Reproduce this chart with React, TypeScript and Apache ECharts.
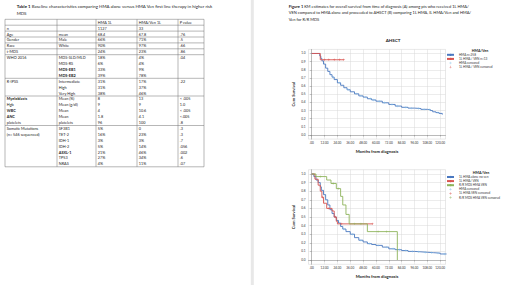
import React, { useEffect, useRef } from "react";
import * as echarts from "echarts";

const FONT = "Lato, 'Open Sans', sans-serif";

// ---------- Table data ----------
const tableTitle1 = "{b|Table 1} Baseline characteristics comparing HMA alone versus HMA Ven first line therapy in higher risk";
const tableTitle2 = "MDS";
const tableHeader = ["", "", "HMA 1L", "HMA/Ven 1L", "P value"];
const tableRows: string[][] = [
  ["n", "", "1127", "33", ""],
  ["Age", "mean", "68.4", "67.8", ".76"],
  ["Gender", "Male", "66%", "71%", ".5"],
  ["Race", "White", "90%", "97%", ".66"],
  ["t-MDS", "", "24%", "23%", ".86"],
  ["WHO 2016", "MDS-SLD/MLD", "18%", "4%", ".04"],
  ["", "MDS-RS", "6%", "4%", ""],
  ["", "MDS-EB1", "33%", "9%", ""],
  ["", "MDS-EB2", "39%", "78%", ""],
  ["R-IPSS", "Intermediate", "31%", "17%", ".22"],
  ["", "High", "31%", "37%", ""],
  ["", "Very High", "38%", "46%", ""],
  ["Myeloblasts", "Mean (%)", "8", "13", "< .005"],
  ["Hgb", "Mean (g/dl)", "9", "9", "1.0"],
  ["WBC", "Mean", "4", "10.6", "< .005"],
  ["ANC", "Mean", "1.8", "4.1", "<.005"],
  ["platelets", "platelets", "96", "100", ".8"],
  ["Somatic Mutations", "SF3B1", "5%", "0", ".3"],
  ["(n= 546 sequenced)", "TET-2", "16%", "23%", ".3"],
  ["", "IDH-1", "3%", "3%", ".7"],
  ["", "IDH-2", "5%", "14%", ".056"],
  ["", "ASXL-1", "21%", "46%", ".002"],
  ["", "TP53", "27%", "34%", ".6"],
  ["", "NRAS", "4%", "11%", ".07"],
];
const boldLabels = ["Myeloblasts", "WBC", "ANC", "MDS-EB1", "MDS-EB2", "ASXL-1"];
// rows (0 = header) after which a horizontal rule is drawn
const ruleAfter = [0, 1, 2, 3, 4, 5, 9, 12, 17, 24];

// ---------- Figure text ----------
const figTitle = [
  "{b|Figure 1} KM estimates for overall survival from time of diagnosis (A) among pts who received 1L HMA/",
  "VEN compared to HMA alone and proceeded to AHSCT (B) comparing 1L HMA, IL HMA/Ven and HMA/",
  "Ven for R/R MDS",
];
const chartATitle = "AHSCT";
const legendTitle = "HMA/Ven";
const yTitle = "Cum Survival";
const xTitle = "Months from diagnosis";
const xTicks = [0, 12, 24, 36, 48, 60, 72, 84, 96, 108, 120];
const yTicks = [0, 0.1, 0.2, 0.3, 0.4, 0.5, 0.6, 0.7, 0.8, 0.9, 1.0];

// ---------- Panel A (AHSCT) ----------
const aHmaName = "HMA n=258";
const aVenName = "1L HMA / VEN n=13";
const aHmaCensName = "HMA censored";
const aVenCensName = "1L HMA / VEN censored";
const aHma: number[][] = [
  [0, 1], [6.8, 1], [7.5, 0.97], [8.5, 0.94], [9.5, 0.91], [11, 0.87], [13, 0.82], [15, 0.78],
  [17, 0.74], [19, 0.71], [21, 0.68], [24, 0.64], [27, 0.61], [30, 0.58], [33, 0.555], [36, 0.53],
  [40, 0.505], [44, 0.48], [48, 0.465], [52, 0.445], [56, 0.43], [60, 0.415], [66, 0.395],
  [72, 0.375], [78, 0.355], [84, 0.34], [90, 0.33], [96, 0.325], [102, 0.315], [108, 0.31],
  [111, 0.3], [113, 0.285], [116, 0.275], [119, 0.265], [122, 0.25],
];
const aHmaCensT = [20, 26, 34, 42, 46, 50, 55, 58, 63, 68, 75, 80, 88, 93, 100, 105, 110, 118];
const aVen: number[][] = [[0, 1], [8, 0.923], [30, 0.923]];
const aVenCensT = [12, 16, 21, 26, 30];

// ---------- Panel B ----------
const bHmaName = "1L HMA alone no ven";
const bVenName = "1L HMA/ VEN";
const bRrName = "R/R MDS HMA VEN";
const bHmaCensName = "HMA censored";
const bVenCensName = "1L HMA VEN censored";
const bRrCensName = "R/R MDS HMA VEN censored";
const bHma: number[][] = [
  [0, 1], [2, 0.97], [4, 0.93], [6, 0.9], [8, 0.85], [9, 0.81], [11, 0.76], [13, 0.7], [15, 0.64],
  [17, 0.585], [19, 0.54], [21, 0.5], [23, 0.46], [25, 0.43], [27, 0.39], [29, 0.36], [32, 0.33],
  [36, 0.3], [40, 0.26], [44, 0.23], [48, 0.21], [52, 0.19], [56, 0.18], [60, 0.17], [66, 0.15],
  [72, 0.13], [78, 0.12], [84, 0.11], [90, 0.1], [96, 0.095], [102, 0.09], [108, 0.085],
  [114, 0.08], [120, 0.07], [126, 0.065],
];
const bHmaCensT = [30, 38, 46, 54, 62, 70, 76, 82, 88, 94, 100, 106, 112, 118, 124];
const bVen: number[][] = [
  [0, 1], [3, 0.94], [6, 0.87], [8, 0.8], [9.5, 0.73], [11, 0.66], [14, 0.6], [19, 0.57],
  [21, 0.5], [23, 0.45], [24, 0.42], [57, 0.42],
];
const bVenCensT = [10, 16, 22, 28, 57];
const bRr: number[][] = [
  [0, 1], [4, 0.97], [14, 0.93], [18, 0.89], [23, 0.83], [27, 0.74], [29, 0.64], [32, 0.53],
  [35, 0.42], [52, 0.33], [80, 0],
];
const bRrCensT = [8, 20, 25, 40, 46, 62, 70];

// ---------- helpers ----------
function stepAt(curve: number[][], t: number): number {
  let v = curve[0][1];
  for (const [x, y] of curve) if (x <= t) v = y;
  return v;
}
const cens = (curve: number[][], ts: number[]) => ts.map((t) => [t, stepAt(curve, t)]);

const BLUE = "#4a78c0";
const LBLUE = "#86c0e8";
const RED = "#d9534f";
const GREEN = "#8db35a";
const PLUS = "path://M-0.18,-1h0.36v0.82h0.82v0.36h-0.82v0.82h-0.36v-0.82h-0.82v-0.36h0.82z";
const TABLE_FS = 3.8;
const TITLE_FS = 4.4;
const FIG_FS = 4.0;

function buildTable(): any[] {
  const els: any[] = [];
  const colX = [5, 57, 96, 137, 178, 204];
  const top = 19.3;
  const rh = 5.9;
  const all = [tableHeader, ...tableRows];
  const bottom = top + all.length * rh;
  colX.forEach((x) =>
    els.push({ type: "line", shape: { x1: x, y1: top, x2: x, y2: bottom }, style: { stroke: "#6f6f6f", lineWidth: 0.5 } })
  );
  els.push({ type: "line", shape: { x1: colX[0], y1: top, x2: colX[5], y2: top }, style: { stroke: "#6f6f6f", lineWidth: 0.5 } });
  ruleAfter.forEach((r) => {
    const y = top + (r + 1) * rh;
    els.push({ type: "line", shape: { x1: colX[0], y1: y, x2: colX[5], y2: y }, style: { stroke: "#6f6f6f", lineWidth: 0.5 } });
  });
  all.forEach((row, ri) => {
    row.forEach((cell, ci) => {
      if (!cell) return;
      els.push({
        type: "text",
        x: colX[ci] + 1.8,
        y: top + (ri + 0.5) * rh,
        style: {
          text: cell,
          fontSize: TABLE_FS,
          fontFamily: FONT,
          fontWeight: boldLabels.includes(cell) ? "bold" : "normal",
          fill: "#222",
          verticalAlign: "middle",
        },
      });
    });
  });
  return els;
}

function makeAxes(gi: number) {
  const x = {
    type: "value",
    gridIndex: gi,
    min: -3,
    max: 125,
    name: xTitle,
    nameLocation: "middle",
    nameGap: 10,
    nameTextStyle: { fontSize: 4.2, fontWeight: "bold", fontFamily: FONT, color: "#222" },
    axisLine: { show: true, lineStyle: { color: "#888", width: 0.5 } },
    axisTick: { show: true, length: 1.5, customValues: xTicks, lineStyle: { color: "#888", width: 0.5 } },
    axisLabel: {
      customValues: xTicks,
      fontSize: 3.1,
      margin: 2.5,
      fontFamily: FONT,
      color: "#333",
      hideOverlap: false,
      formatter: (v: number) => (v === 0 ? ".00" : v.toFixed(2)),
    },
    splitLine: { show: true, lineStyle: { color: "#d9d9d9", width: 0.5 } },
  };
  const y = {
    type: "value",
    gridIndex: gi,
    min: -0.05,
    max: 1.05,
    name: yTitle,
    nameLocation: "middle",
    nameGap: 13,
    nameRotate: 90,
    nameTextStyle: { fontSize: 4.2, fontWeight: "bold", fontFamily: FONT, color: "#222" },
    axisLine: { show: true, lineStyle: { color: "#888", width: 0.5 } },
    axisTick: { show: true, length: 1.5, customValues: yTicks, lineStyle: { color: "#888", width: 0.5 } },
    axisLabel: {
      customValues: yTicks,
      fontSize: 3.1,
      margin: 3,
      fontFamily: FONT,
      color: "#333",
      hideOverlap: false,
      formatter: (v: number) => v.toFixed(1),
    },
    splitLine: { show: true, lineStyle: { color: "#d9d9d9", width: 0.5 } },
  };
  return { x, y };
}

function lineSeries(name: string, data: number[][], color: string, gi: number, width = 0.9) {
  return {
    type: "line",
    name,
    xAxisIndex: gi,
    yAxisIndex: gi,
    step: "end",
    data,
    symbol: "none",
    lineStyle: { color, width },
    itemStyle: { color },
    z: 3,
  };
}
function censSeries(name: string, data: number[][], color: string, gi: number) {
  return {
    type: "scatter",
    name,
    xAxisIndex: gi,
    yAxisIndex: gi,
    data,
    symbol: PLUS,
    symbolSize: 2.4,
    itemStyle: { color },
    z: 4,
  };
}

export default function App() {
  const ref = useRef<HTMLDivElement>(null);
  useEffect(() => {
    if (!ref.current) return;
    const chart = echarts.init(ref.current, undefined, { renderer: "svg" });
    const a = makeAxes(0);
    const b = makeAxes(1);
    const legendText = { fontSize: 3.1, fontFamily: FONT, color: "#333", padding: [0, 0, 0, 0] };
    const option: any = {
      animation: false,
      backgroundColor: "#fff",
      grid: [
        { left: 308.5, top: 49.4, width: 137, height: 89.7, show: true, borderColor: "#d0d0d0", borderWidth: 0.5 },
        { left: 308.5, top: 169.7, width: 137, height: 94.6, show: true, borderColor: "#d0d0d0", borderWidth: 0.5 },
      ],
      xAxis: [a.x, b.x],
      yAxis: [a.y, b.y],
      legend: [
        {
          left: 446,
          top: 53.3,
          orient: "vertical",
          itemWidth: 7,
          itemHeight: 2.5,
          itemGap: 1.1,
          padding: 0,
          selectedMode: false,
          textStyle: legendText,
          data: [aHmaName, aVenName, aHmaCensName, aVenCensName],
        },
        {
          left: 446,
          top: 175.5,
          orient: "vertical",
          itemWidth: 7,
          itemHeight: 2.5,
          itemGap: 1.1,
          padding: 0,
          selectedMode: false,
          textStyle: legendText,
          data: [bHmaName, bVenName, bRrName, bHmaCensName, bVenCensName, bRrCensName],
        },
      ],
      series: [
        lineSeries(aHmaName, aHma, BLUE, 0),
        censSeries(aHmaCensName, cens(aHma, aHmaCensT), LBLUE, 0),
        lineSeries(aVenName, aVen, RED, 0),
        censSeries(aVenCensName, cens(aVen, aVenCensT), RED, 0),
        lineSeries(bHmaName, bHma, BLUE, 1),
        lineSeries(bVenName, bVen, RED, 1),
        lineSeries(bRrName, bRr, GREEN, 1),
        censSeries(bHmaCensName, cens(bHma, bHmaCensT), LBLUE, 1),
        censSeries(bVenCensName, cens(bVen, bVenCensT), RED, 1),
        censSeries(bRrCensName, cens(bRr, bRrCensT), GREEN, 1),
      ],
      graphic: [
        { type: "rect", shape: { x: 250.8, y: 0, width: 3, height: 285 }, style: { fill: "#e8e8e8" } },
        {
          type: "text",
          x: 16.7,
          y: 6,
          style: { text: tableTitle1, rich: { b: { fontWeight: "bold", fontSize: TITLE_FS, fontFamily: FONT } }, fontSize: TITLE_FS, fontFamily: FONT, fill: "#222", verticalAlign: "middle" },
        },
        { type: "text", x: 16.7, y: 13, style: { text: tableTitle2, fontSize: TITLE_FS, fontFamily: FONT, fill: "#222", verticalAlign: "middle" } },
        ...figTitle.map((t, i) => ({
          type: "text",
          x: 288.7,
          y: 6 + i * 6.6,
          style: { text: t, rich: { b: { fontWeight: "bold", fontSize: FIG_FS, fontFamily: FONT } }, fontSize: FIG_FS, fontFamily: FONT, fill: "#222", verticalAlign: "middle" },
        })),
        { type: "text", x: 393, y: 40, style: { text: chartATitle, fontSize: 4.5, fontWeight: "bold", fontFamily: FONT, fill: "#222", align: "center", verticalAlign: "middle" } },
        { type: "text", x: 480, y: 50.5, style: { text: legendTitle, fontSize: 3.6, fontWeight: "bold", fontFamily: FONT, fill: "#222", align: "center", verticalAlign: "middle" } },
        { type: "text", x: 481, y: 172.8, style: { text: legendTitle, fontSize: 3.6, fontWeight: "bold", fontFamily: FONT, fill: "#222", align: "center", verticalAlign: "middle" } },
        ...buildTable(),
      ],
    };
    chart.setOption(option);
    return () => chart.dispose();
  }, []);
  return <div ref={ref} style={{ position: "absolute", left: 0, top: 0, width: 520, height: 285, background: "#fff" }} />;
}
